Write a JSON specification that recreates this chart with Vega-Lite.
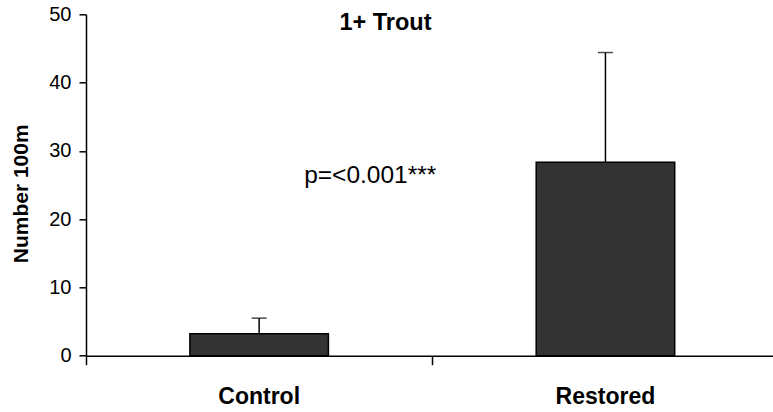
{
  "$schema": "https://vega.github.io/schema/vega-lite/v6.json",
  "autosize": {"type": "none"},
  "width": 687,
  "height": 341.4,
  "padding": {"left": 86, "top": 14.3, "right": 0, "bottom": 56.3},
  "background": "white",
  "config": {
    "font": "Liberation Sans",
    "view": {"stroke": null}
  },
  "title": {
    "text": "1+ Trout",
    "font": "Liberation Sans",
    "fontSize": 23.5,
    "fontWeight": "bold",
    "color": "black",
    "anchor": "middle",
    "frame": "group",
    "baseline": "alphabetic",
    "offset": 0,
    "dx": -44,
    "dy": 49
  },
  "datasets": {
    "fish": [
      {"site": "Control", "mean": 3.2, "upper": 5.5},
      {"site": "Restored", "mean": 28.35, "upper": 44.4}
    ],
    "note": [
      {"site": "Restored", "value": 25.3, "label": "p=<0.001***"}
    ]
  },
  "data": {"name": "fish"},
  "encoding": {
    "x": {
      "field": "site",
      "type": "nominal",
      "sort": ["Control", "Restored"],
      "scale": {"range": [0, 692.6], "paddingInner": 0, "paddingOuter": 0},
      "axis": {
        "title": null,
        "labelAngle": 0,
        "bandPosition": 0,
        "labelFont": "Liberation Sans",
        "labelFontSize": 23,
        "labelFontWeight": "bold",
        "labelColor": "black",
        "labelBaseline": "alphabetic",
        "labelPadding": 38.6,
        "tickSize": 9,
        "tickColor": "black",
        "tickWidth": 1.5,
        "domainColor": "black",
        "domainWidth": 1.5
      }
    }
  },
  "layer": [
    {
      "mark": {"type": "bar", "width": {"band": 0.4}, "fill": "#333333", "stroke": "black", "strokeWidth": 1.5},
      "encoding": {
        "y": {
          "field": "mean",
          "type": "quantitative",
          "scale": {"domain": [0, 50], "nice": false, "zero": true},
          "axis": {
            "values": [0, 10, 20, 30, 40, 50],
            "grid": false,
            "title": "Number 100m",
            "titleFont": "Liberation Sans",
            "titleFontSize": 21,
            "titleFontWeight": "bold",
            "titleColor": "black",
            "titleAngle": -90,
            "titleAlign": "center",
            "titleBaseline": "alphabetic",
            "titleX": -59,
            "titleY": 179,
            "labelFont": "Liberation Sans",
            "labelFontSize": 20,
            "labelColor": "black",
            "labelPadding": 8,
            "tickSize": 7,
            "tickColor": "black",
            "tickWidth": 1.5,
            "domainColor": "black",
            "domainWidth": 1.5
          }
        }
      }
    },
    {
      "mark": {"type": "rule", "color": "black", "strokeWidth": 1.5},
      "encoding": {
        "y": {"field": "mean", "type": "quantitative"},
        "y2": {"field": "upper"}
      }
    },
    {
      "mark": {"type": "tick", "color": "black", "size": 15, "thickness": 1.5},
      "encoding": {
        "y": {"field": "upper", "type": "quantitative"}
      }
    },
    {
      "data": {"name": "note"},
      "mark": {"type": "text", "align": "right", "baseline": "alphabetic", "dx": 4, "fontSize": 24.5, "color": "black", "font": "Liberation Sans"},
      "encoding": {
        "x": {"field": "site", "type": "nominal", "bandPosition": 0},
        "y": {"field": "value", "type": "quantitative"},
        "text": {"field": "label"}
      }
    }
  ]
}
